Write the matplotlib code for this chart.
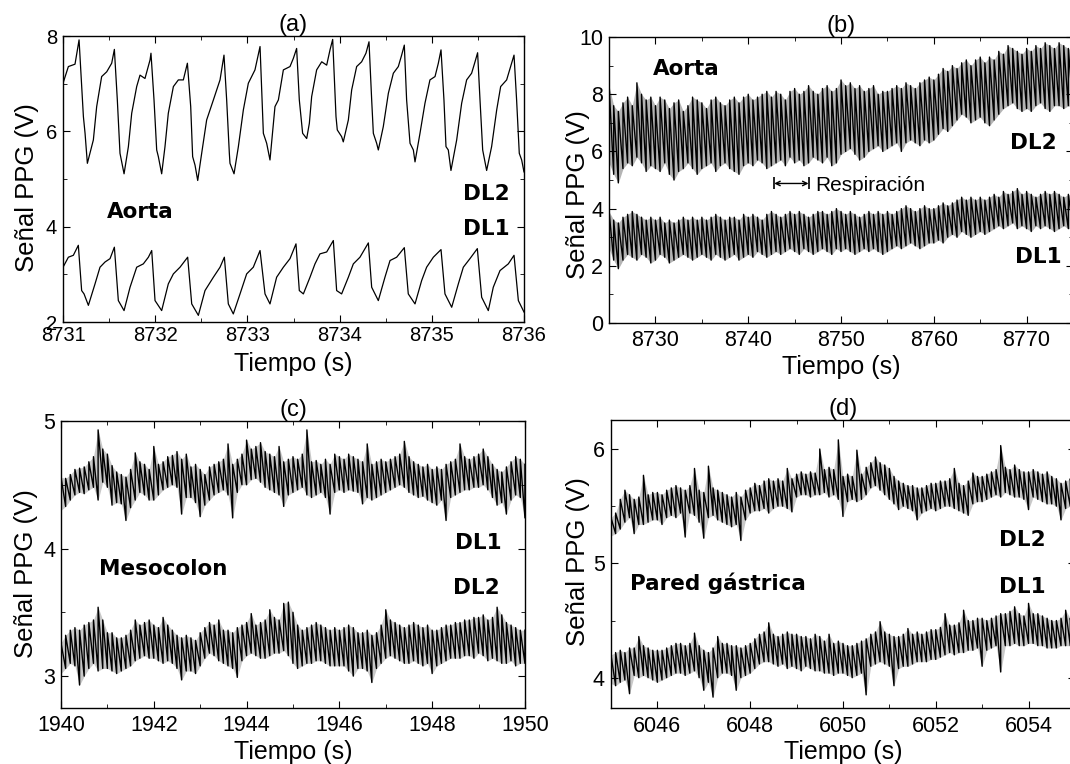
import matplotlib
matplotlib.use("Agg")
import matplotlib.pyplot as plt
import numpy as np
from matplotlib.ticker import MultipleLocator, FormatStrFormatter

plt.rcParams['font.family'] = ['Liberation Sans', 'DejaVu Sans']

# ---------------- (a) Aorta, 5 s ----------------
a_dl2_t = [8731.000, 8731.058, 8731.130, 8731.174, 8731.221, 8731.239, 8731.250, 8731.264, 8731.329, 8731.365,
           8731.419, 8731.474, 8731.528, 8731.557, 8731.589, 8731.618, 8731.662, 8731.709, 8731.745, 8731.799,
           8731.835, 8731.889, 8731.944, 8731.954, 8731.987, 8732.016, 8732.034, 8732.070, 8732.106, 8732.142,
           8732.197, 8732.251, 8732.305, 8732.349, 8732.385, 8732.406, 8732.432, 8732.461, 8732.504, 8732.558,
           8732.631, 8732.703, 8732.746, 8732.775, 8732.804, 8732.811, 8732.855, 8732.902, 8732.956, 8733.010,
           8733.082, 8733.137, 8733.173, 8733.209, 8733.245, 8733.299, 8733.336, 8733.390, 8733.462, 8733.498,
           8733.534, 8733.563, 8733.599, 8733.643, 8733.672, 8733.697, 8733.751, 8733.806, 8733.860, 8733.896,
           8733.925, 8733.961, 8733.975, 8734.022, 8734.040, 8734.095, 8734.131, 8734.185, 8734.239, 8734.286,
           8734.319, 8734.348, 8734.366, 8734.402, 8734.420, 8734.474, 8734.529, 8734.583, 8734.637, 8734.673,
           8734.702, 8734.727, 8734.764, 8734.800, 8734.818, 8734.872, 8734.926, 8734.980, 8735.035, 8735.071,
           8735.100, 8735.132, 8735.154, 8735.179, 8735.208, 8735.270, 8735.324, 8735.378, 8735.432, 8735.469,
           8735.497, 8735.523, 8735.552, 8735.595, 8735.649, 8735.704, 8735.747, 8735.812, 8735.855, 8735.892,
           8735.920, 8735.949, 8735.975, 8736.000]
a_dl2_v = [7.01, 7.36, 7.41, 7.92, 6.31, 5.96, 5.68, 5.33, 5.82, 6.52,
           7.15, 7.25, 7.43, 7.72, 6.66, 5.54, 5.11, 5.68, 6.38, 6.94,
           7.18, 7.11, 7.50, 7.64, 6.66, 5.61, 5.47, 5.11, 5.68, 6.38,
           6.94, 7.08, 7.08, 7.43, 6.52, 5.47, 5.29, 4.97, 5.54, 6.24,
           6.66, 7.08, 7.60, 6.66, 5.54, 5.33, 5.11, 5.68, 6.45, 7.01,
           7.29, 7.78, 5.96, 5.75, 5.40, 6.52, 6.66, 7.29, 7.36, 7.53,
           7.74, 6.66, 5.96, 5.85, 6.17, 6.73, 7.29, 7.46, 7.39, 7.71,
           7.93, 6.31, 6.03, 5.89, 5.78, 6.24, 6.87, 7.36, 7.46, 7.64,
           7.88, 6.66, 5.96, 5.75, 5.61, 6.10, 6.80, 7.22, 7.36, 7.60,
           7.81, 6.66, 5.75, 5.61, 5.36, 5.96, 6.59, 7.08, 7.15, 7.43,
           7.71, 6.66, 5.68, 5.61, 5.18, 5.82, 6.59, 7.08, 7.22, 7.46,
           7.65, 6.66, 5.61, 5.18, 5.68, 6.45, 6.94, 7.08, 7.36, 7.60,
           6.66, 5.54, 5.40, 5.15]
a_dl1_t = [8731.000, 8731.058, 8731.112, 8731.166, 8731.202, 8731.228, 8731.275, 8731.347, 8731.401, 8731.456,
           8731.510, 8731.557, 8731.600, 8731.662, 8731.727, 8731.799, 8731.871, 8731.926, 8731.962, 8731.998,
           8732.070, 8732.142, 8732.197, 8732.269, 8732.352, 8732.396, 8732.468, 8732.540, 8732.631, 8732.703,
           8732.750, 8732.793, 8732.847, 8732.920, 8732.992, 8733.064, 8733.137, 8733.191, 8733.245, 8733.317,
           8733.390, 8733.462, 8733.527, 8733.563, 8733.607, 8733.679, 8733.733, 8733.787, 8733.860, 8733.932,
           8733.968, 8734.022, 8734.095, 8734.149, 8734.221, 8734.312, 8734.348, 8734.420, 8734.492, 8734.547,
           8734.619, 8734.702, 8734.745, 8734.818, 8734.890, 8734.944, 8735.017, 8735.100, 8735.143, 8735.216,
           8735.288, 8735.342, 8735.414, 8735.494, 8735.541, 8735.613, 8735.667, 8735.740, 8735.830, 8735.892,
           8735.939, 8736.000]
a_dl1_v = [3.15, 3.36, 3.40, 3.61, 2.66, 2.59, 2.35, 2.80, 3.15, 3.26,
           3.33, 3.57, 2.45, 2.24, 2.73, 3.15, 3.22, 3.36, 3.50, 2.45,
           2.24, 2.80, 3.01, 3.15, 3.36, 2.38, 2.14, 2.66, 2.94, 3.15,
           3.36, 2.38, 2.17, 2.59, 3.01, 3.15, 3.50, 2.59, 2.38, 2.94,
           3.15, 3.33, 3.64, 2.66, 2.59, 2.94, 3.22, 3.43, 3.47, 3.71,
           2.66, 2.59, 2.94, 3.22, 3.36, 3.66, 2.73, 2.45, 2.94, 3.29,
           3.36, 3.56, 2.59, 2.38, 2.87, 3.15, 3.36, 3.52, 2.59, 2.31,
           2.80, 3.15, 3.33, 3.54, 2.52, 2.24, 2.73, 3.08, 3.22, 3.40,
           2.45, 2.21]

# ---------------- (b) Aorta, 50 s: per 0.5 s min / max ----------------
b_dl2_hi = [8.3, 7.6, 7.4, 7.7, 7.9, 7.6, 8.4, 8.0, 7.8, 7.9,
            7.6, 7.9, 7.8, 7.5, 7.7, 7.8, 7.4, 7.6, 7.9, 7.8,
            7.7, 7.5, 7.8, 7.9, 7.7, 7.6, 7.8, 7.9, 7.7, 7.9,
            8.0, 7.8, 7.9, 8.0, 8.1, 7.9, 8.1, 8.0, 7.8, 8.1,
            8.2, 8.0, 8.1, 8.3, 8.1, 8.0, 8.2, 8.3, 8.1, 8.2,
            8.5, 8.3, 8.4, 8.2, 8.3, 8.1, 8.2, 8.3, 8.0, 8.1,
            8.1, 8.2, 8.3, 8.2, 8.4, 8.3, 8.2, 8.4, 8.5, 8.6,
            8.5, 8.7, 8.9, 8.8, 9.0, 8.9, 9.1, 9.2, 9.0, 9.2,
            9.3, 9.1, 9.3, 9.2, 9.5, 9.4, 9.7, 9.6, 9.5, 9.4,
            9.6, 9.5, 9.7, 9.6, 9.8, 9.7, 9.6, 9.8, 9.7, 9.6, 9.5]
b_dl2_lo = [5.6, 5.2, 4.9, 5.4, 5.6, 5.5, 5.8, 5.6, 5.3, 5.5,
            5.4, 5.3, 5.6, 5.2, 5.0, 5.3, 5.4, 5.6, 5.4, 5.2,
            5.4, 5.5, 5.6, 5.3, 5.5, 5.6, 5.4, 5.3, 5.2, 5.5,
            5.6, 5.5, 5.7, 5.6, 5.4, 5.5, 5.6, 5.7, 5.5, 5.8,
            5.6, 5.7, 5.5, 5.6, 5.8, 5.7, 5.6, 5.8, 5.5, 5.6,
            5.9, 6.0, 6.1, 5.9, 5.7, 5.8, 6.0, 6.1, 6.2, 6.0,
            6.1, 6.2, 6.3, 6.0, 6.3, 6.4, 6.3, 6.2, 6.4, 6.3,
            6.4, 6.6, 6.8, 6.7, 6.9, 7.1, 7.3, 7.2, 7.0, 7.1,
            7.2, 7.0, 6.9, 7.1, 7.3, 7.5, 7.6, 7.7, 7.5, 7.4,
            7.5, 7.4, 7.6, 7.7, 7.5, 7.4, 7.6, 7.6, 7.5, 7.6, 7.5]
b_dl1_hi = [3.9, 3.6, 3.5, 3.7, 3.8, 3.9, 3.8, 3.7, 3.6, 3.7,
            3.6, 3.7, 3.5, 3.6, 3.5, 3.6, 3.7, 3.6, 3.7, 3.6,
            3.7, 3.6, 3.7, 3.8, 3.7, 3.6, 3.7, 3.7, 3.6, 3.8,
            3.7, 3.8, 3.7, 3.6, 3.8, 3.9, 3.8, 3.7, 3.8, 3.9,
            3.8, 3.9, 3.8, 3.7, 3.8, 3.9, 3.9, 3.8, 3.9, 4.0,
            3.9, 3.8, 3.9, 3.8, 3.7, 3.8, 3.9, 3.8, 3.9, 3.8,
            3.9, 3.8, 3.9, 4.0, 4.1, 4.0, 3.9, 4.0, 4.1, 4.0,
            4.0, 4.1, 4.2, 4.1, 4.2, 4.3, 4.4, 4.3, 4.4, 4.3,
            4.4, 4.3, 4.4, 4.5, 4.4, 4.6, 4.5, 4.6, 4.7, 4.5,
            4.6, 4.5, 4.4, 4.5, 4.6, 4.5, 4.6, 4.5, 4.4, 4.5, 4.4]
b_dl1_lo = [2.6, 2.2, 1.9, 2.2, 2.4, 2.3, 2.2, 2.4, 2.3, 2.1,
            2.2, 2.4, 2.3, 2.1, 2.2, 2.3, 2.4, 2.3, 2.2, 2.3,
            2.4, 2.3, 2.2, 2.4, 2.3, 2.2, 2.3, 2.4, 2.2, 2.3,
            2.4, 2.3, 2.5, 2.4, 2.3, 2.4, 2.5, 2.4, 2.5, 2.6,
            2.5, 2.4, 2.6, 2.5, 2.4, 2.5, 2.6, 2.5, 2.4, 2.6,
            2.5, 2.6, 2.5, 2.4, 2.5, 2.6, 2.5, 2.6, 2.5, 2.4,
            2.5, 2.6, 2.7, 2.6, 2.7, 2.8, 2.7, 2.6, 2.7, 2.8,
            2.8, 2.9, 2.8, 3.0, 3.1, 3.0, 3.2, 3.1, 3.0, 3.1,
            3.2, 3.1, 3.2, 3.3, 3.4, 3.3, 3.4, 3.5, 3.3, 3.4,
            3.3, 3.2, 3.4, 3.3, 3.4, 3.3, 3.2, 3.3, 3.4, 3.3, 3.3]

# ---------------- (c) Mesocolon, 10 s: per 0.1 s min / max ----------------
c_dl1_hi = [4.56, 4.55, 4.58, 4.62, 4.63, 4.64, 4.68, 4.72, 4.93, 4.78,
            4.74, 4.65, 4.60, 4.58, 4.56, 4.62, 4.75, 4.68, 4.66, 4.62,
            4.80, 4.66, 4.68, 4.72, 4.73, 4.76, 4.70, 4.74, 4.64, 4.66,
            4.62, 4.58, 4.64, 4.66, 4.68, 4.70, 4.82, 4.66, 4.70, 4.74,
            4.85, 4.78, 4.80, 4.83, 4.76, 4.74, 4.72, 4.80, 4.68, 4.70,
            4.72, 4.70, 4.74, 4.93, 4.68, 4.69, 4.66, 4.70, 4.66, 4.74,
            4.72, 4.70, 4.74, 4.72, 4.70, 4.68, 4.82, 4.66, 4.68, 4.70,
            4.68, 4.70, 4.72, 4.74, 4.84, 4.72, 4.68, 4.66, 4.64, 4.66,
            4.62, 4.64, 4.62, 4.66, 4.68, 4.70, 4.82, 4.72, 4.70, 4.72,
            4.74, 4.78, 4.72, 4.66, 4.62, 4.60, 4.64, 4.68, 4.72, 4.70, 4.66]
c_dl1_lo = [4.30, 4.33, 4.38, 4.42, 4.44, 4.43, 4.46, 4.48, 4.38, 4.52,
            4.48, 4.34, 4.36, 4.35, 4.22, 4.32, 4.38, 4.44, 4.42, 4.38,
            4.38, 4.42, 4.46, 4.48, 4.50, 4.48, 4.27, 4.40, 4.40, 4.36,
            4.25, 4.34, 4.38, 4.42, 4.44, 4.46, 4.42, 4.24, 4.44, 4.50,
            4.50, 4.54, 4.55, 4.52, 4.48, 4.46, 4.44, 4.42, 4.33, 4.42,
            4.44, 4.46, 4.48, 4.42, 4.40, 4.42, 4.44, 4.40, 4.27, 4.44,
            4.46, 4.44, 4.46, 4.45, 4.44, 4.35, 4.40, 4.38, 4.40, 4.42,
            4.44, 4.46, 4.48, 4.50, 4.48, 4.44, 4.42, 4.40, 4.41, 4.38,
            4.36, 4.34, 4.38, 4.22, 4.40, 4.42, 4.44, 4.46, 4.46, 4.48,
            4.48, 4.50, 4.46, 4.40, 4.34, 4.36, 4.27, 4.38, 4.42, 4.40, 4.24]
c_dl2_hi = [3.26, 3.32, 3.36, 3.38, 3.36, 3.40, 3.42, 3.44, 3.54, 3.44,
            3.34, 3.34, 3.30, 3.30, 3.32, 3.36, 3.44, 3.40, 3.42, 3.44,
            3.40, 3.38, 3.46, 3.40, 3.36, 3.32, 3.30, 3.32, 3.30, 3.28,
            3.34, 3.38, 3.42, 3.40, 3.44, 3.36, 3.36, 3.34, 3.38, 3.40,
            3.42, 3.49, 3.40, 3.42, 3.44, 3.52, 3.46, 3.44, 3.57, 3.58,
            3.50, 3.40, 3.36, 3.38, 3.40, 3.42, 3.40, 3.38, 3.36, 3.38,
            3.36, 3.38, 3.40, 3.38, 3.34, 3.34, 3.36, 3.32, 3.34, 3.40,
            3.52, 3.44, 3.42, 3.40, 3.38, 3.40, 3.42, 3.40, 3.38, 3.40,
            3.36, 3.36, 3.38, 3.40, 3.40, 3.42, 3.42, 3.44, 3.44, 3.46,
            3.46, 3.48, 3.44, 3.46, 3.54, 3.48, 3.42, 3.40, 3.38, 3.36, 3.36]
c_dl2_lo = [3.02, 3.06, 3.10, 3.08, 2.93, 3.00, 3.06, 3.10, 3.04, 3.06,
            3.06, 3.04, 3.02, 3.04, 3.06, 3.08, 3.12, 3.14, 3.16, 3.14,
            3.14, 3.12, 3.10, 3.12, 3.10, 3.06, 2.97, 3.04, 3.04, 3.02,
            3.08, 3.14, 3.18, 3.16, 3.12, 3.10, 3.08, 3.06, 2.99, 3.12,
            3.16, 3.18, 3.16, 3.14, 3.14, 3.16, 3.18, 3.18, 3.20, 3.16,
            3.10, 3.06, 3.08, 3.10, 3.10, 3.12, 3.12, 3.10, 3.08, 3.08,
            3.08, 3.08, 3.04, 3.00, 3.06, 3.06, 3.04, 2.95, 3.06, 3.10,
            3.14, 3.16, 3.14, 3.12, 3.10, 3.10, 3.12, 3.10, 3.08, 3.10,
            3.02, 3.08, 3.10, 3.12, 3.14, 3.14, 3.14, 3.16, 3.16, 3.14,
            3.18, 3.16, 3.12, 3.14, 3.12, 3.10, 3.10, 3.12, 3.08, 3.10, 3.10]

# ---------------- (d) Pared gastrica, 10 s: per 0.1 s min / max ----------------
d_dl2_hi = [5.40, 5.44, 5.56, 5.64, 5.60, 5.56, 5.58, 5.77, 5.60, 5.62,
            5.62, 5.60, 5.64, 5.66, 5.68, 5.66, 5.64, 5.68, 5.83, 5.64,
            5.62, 5.85, 5.66, 5.64, 5.62, 5.60, 5.58, 5.62, 5.58, 5.64,
            5.66, 5.70, 5.68, 5.72, 5.74, 5.72, 5.74, 5.72, 5.83, 5.74,
            5.78, 5.80, 5.78, 5.80, 5.79, 6.00, 5.82, 5.84, 5.82, 6.08,
            5.76, 5.78, 5.76, 5.99, 5.78, 5.84, 5.88, 5.93, 5.88, 5.86,
            5.83, 5.76, 5.72, 5.70, 5.68, 5.68, 5.66, 5.66, 5.68, 5.70,
            5.70, 5.72, 5.72, 5.74, 5.83, 5.70, 5.68, 5.72, 5.79, 5.76,
            5.76, 5.78, 5.80, 5.82, 6.03, 5.84, 5.82, 5.86, 5.82, 5.80,
            5.80, 5.82, 5.80, 5.78, 5.80, 5.76, 5.74, 5.70, 5.72, 5.74, 5.74]
d_dl2_lo = [5.24, 5.26, 5.30, 5.36, 5.40, 5.26, 5.34, 5.34, 5.36, 5.38,
            5.38, 5.34, 5.40, 5.42, 5.40, 5.44, 5.23, 5.44, 5.42, 5.36,
            5.22, 5.40, 5.42, 5.38, 5.36, 5.34, 5.32, 5.34, 5.20, 5.38,
            5.44, 5.46, 5.46, 5.48, 5.44, 5.48, 5.50, 5.50, 5.48, 5.45,
            5.58, 5.60, 5.60, 5.58, 5.60, 5.60, 5.62, 5.58, 5.60, 5.56,
            5.41, 5.54, 5.56, 5.54, 5.56, 5.60, 5.66, 5.68, 5.64, 5.60,
            5.56, 5.52, 5.47, 5.50, 5.48, 5.46, 5.38, 5.44, 5.46, 5.48,
            5.46, 5.48, 5.50, 5.50, 5.48, 5.46, 5.44, 5.42, 5.52, 5.54,
            5.54, 5.56, 5.58, 5.60, 5.58, 5.62, 5.60, 5.58, 5.58, 5.56,
            5.47, 5.58, 5.56, 5.54, 5.52, 5.52, 5.50, 5.38, 5.48, 5.50, 5.50]
d_dl1_hi = [4.20, 4.22, 4.24, 4.22, 4.26, 4.26, 4.36, 4.28, 4.26, 4.24,
            4.24, 4.24, 4.26, 4.28, 4.30, 4.30, 4.28, 4.30, 4.39, 4.28,
            4.24, 4.22, 4.26, 4.36, 4.30, 4.30, 4.28, 4.28, 4.26, 4.28,
            4.30, 4.34, 4.38, 4.40, 4.48, 4.38, 4.36, 4.38, 4.40, 4.38,
            4.38, 4.36, 4.36, 4.34, 4.38, 4.36, 4.32, 4.38, 4.30, 4.32,
            4.30, 4.28, 4.28, 4.30, 4.32, 4.34, 4.38, 4.40, 4.49, 4.40,
            4.38, 4.36, 4.36, 4.38, 4.43, 4.38, 4.40, 4.38, 4.40, 4.42,
            4.42, 4.44, 4.56, 4.46, 4.46, 4.48, 4.59, 4.50, 4.50, 4.52,
            4.52, 4.50, 4.52, 4.54, 4.56, 4.56, 4.58, 4.62, 4.56, 4.54,
            4.65, 4.56, 4.56, 4.54, 4.52, 4.50, 4.50, 4.52, 4.59, 4.52, 4.52]
d_dl1_lo = [3.95, 3.93, 3.96, 3.98, 3.86, 4.02, 4.00, 4.02, 4.00, 3.98,
            3.96, 3.98, 4.00, 4.02, 4.04, 4.04, 4.02, 4.04, 4.06, 4.00,
            3.89, 3.96, 3.83, 4.00, 4.04, 4.04, 4.02, 3.89, 4.00, 4.02,
            4.04, 4.08, 4.12, 4.14, 4.14, 4.12, 4.10, 4.12, 4.08, 4.10,
            4.08, 4.06, 4.10, 4.08, 4.06, 4.06, 4.04, 4.04, 4.02, 4.04,
            4.04, 4.02, 4.00, 4.02, 4.04, 3.85, 4.10, 4.12, 4.14, 4.12,
            4.10, 3.93, 4.08, 4.10, 4.10, 4.12, 4.14, 4.14, 4.14, 4.16,
            4.16, 4.18, 4.20, 4.22, 4.20, 4.22, 4.22, 4.24, 4.24, 4.26,
            4.10, 4.24, 4.26, 4.28, 4.05, 4.28, 4.28, 4.30, 4.28, 4.28,
            4.30, 4.30, 4.28, 4.28, 4.26, 4.26, 4.26, 4.28, 4.28, 4.28, 4.28]


def minmax_trace(ax, t0, t1, lo, hi, fill, lw):
    """min/max per bin: grey band plus vertical strokes joined into one line"""
    t = np.linspace(t0, t1, len(hi))
    ax.fill_between(t, lo, hi, color=fill, lw=0)
    x = np.repeat(t, 2)
    y = np.column_stack([lo, hi]).ravel()
    ax.plot(x, y, color='black', lw=lw)


def style(ax, xlim, ylim, xmaj, xmin, ymaj, ymin, size, xpad):
    ax.set_xlim(*xlim)
    ax.set_ylim(*ylim)
    ax.xaxis.set_major_locator(MultipleLocator(xmaj))
    ax.xaxis.set_minor_locator(MultipleLocator(xmin))
    ax.yaxis.set_major_locator(MultipleLocator(ymaj))
    ax.yaxis.set_minor_locator(MultipleLocator(ymin))
    ax.xaxis.set_major_formatter(FormatStrFormatter('%d'))
    ax.yaxis.set_major_formatter(FormatStrFormatter('%d'))
    ax.tick_params(which='both', direction='in', top=True, right=True, labelsize=size)
    ax.tick_params(which='major', length=5)
    ax.tick_params(which='minor', length=3)
    ax.tick_params(axis='x', pad=xpad)
    ax.tick_params(axis='y', pad=4.3)
    for s in ax.spines.values():
        s.set_linewidth(1.0)


def labels(ax, title, xl_y, yl_x, yl_y):
    ax.set_title(title, fontsize=17, pad=2)
    ax.set_xlabel('Tiempo (s)', fontsize=18)
    ax.set_ylabel('Señal PPG (V)', fontsize=18.5)
    ax.xaxis.set_label_coords(0.5, xl_y)
    ax.yaxis.set_label_coords(yl_x, yl_y)


fig = plt.figure(figsize=(10.7, 7.64), dpi=100)
lab = dict(fontsize=15.5, fontweight='bold', family='DejaVu Sans', va='center', ha='left')

# (a)
ax = fig.add_axes([0.0589, 0.5785, 0.4308, 0.3743])
ax.plot(a_dl2_t, a_dl2_v, color='black', lw=0.9)
ax.plot(a_dl1_t, a_dl1_v, color='black', lw=0.9)
style(ax, (8731, 8736), (2, 8), 1, 0.5, 2, 1, 14.5, 3.2)
labels(ax, '(a)', -0.105, -0.052, 0.47)
ax.text(8731.48, 4.3, 'Aorta', **lab)
ax.text(8735.34, 4.69, 'DL2', **lab)
ax.text(8735.34, 3.96, 'DL1', **lab)

# (b)
ax = fig.add_axes([0.5692, 0.5772, 0.4336, 0.3743])
minmax_trace(ax, 8725, 8775, b_dl2_lo, b_dl2_hi, '#b4b4b4', 1.0)
minmax_trace(ax, 8725, 8775, b_dl1_lo, b_dl1_hi, '#b4b4b4', 1.0)
style(ax, (8725, 8775), (0, 10), 10, 5, 2, 1, 15.5, 4.7)
labels(ax, '(b)', -0.112, -0.041, 0.45)
ax.text(8729.7, 8.9, 'Aorta', **lab)
ax.text(8768.2, 6.3, 'DL2', **lab)
ax.text(8768.7, 2.3, 'DL1', **lab)
ax.annotate('', xy=(8742.8, 4.88), xytext=(8746.5, 4.88),
            arrowprops=dict(arrowstyle='<->', color='black', lw=1, mutation_scale=8,
                            shrinkA=0, shrinkB=0))
ax.plot([8742.8, 8746.5], [4.88, 4.88], ls='none', marker='|', ms=9, mew=1.2, color='black')
ax.text(8747.2, 4.8, 'Respiración', fontsize=15, va='center', ha='left')

# (c)
ax = fig.add_axes([0.0570, 0.0733, 0.4336, 0.3757])
minmax_trace(ax, 1940, 1950, c_dl1_lo, c_dl1_hi, '#c8c8c8', 1.0)
minmax_trace(ax, 1940, 1950, c_dl2_lo, c_dl2_hi, '#c8c8c8', 1.0)
style(ax, (1940, 1950), (2.75, 5), 2, 1, 1, 0.5, 15.5, 4.7)
labels(ax, '(c)', -0.111, -0.05, 0.47)
ax.text(1940.82, 3.84, 'Mesocolon', **lab)
ax.text(1948.49, 4.04, 'DL1', **lab)
ax.text(1948.45, 3.69, 'DL2', **lab)

# (d)
ax = fig.add_axes([0.5710, 0.0733, 0.4336, 0.3770])
minmax_trace(ax, 6045, 6055, d_dl2_lo, d_dl2_hi, '#c8c8c8', 1.0)
minmax_trace(ax, 6045, 6055, d_dl1_lo, d_dl1_hi, '#c8c8c8', 1.0)
style(ax, (6045, 6055), (3.735, 6.254), 2, 1, 1, 0.5, 15.5, 6)
labels(ax, '(d)', -0.111, -0.045, 0.507)
ax.text(6045.4, 4.83, 'Pared gástrica', **lab)
ax.text(6053.36, 5.2, 'DL2', **lab)
ax.text(6053.36, 4.79, 'DL1', **lab)

fig.savefig('out.png', dpi=100)
